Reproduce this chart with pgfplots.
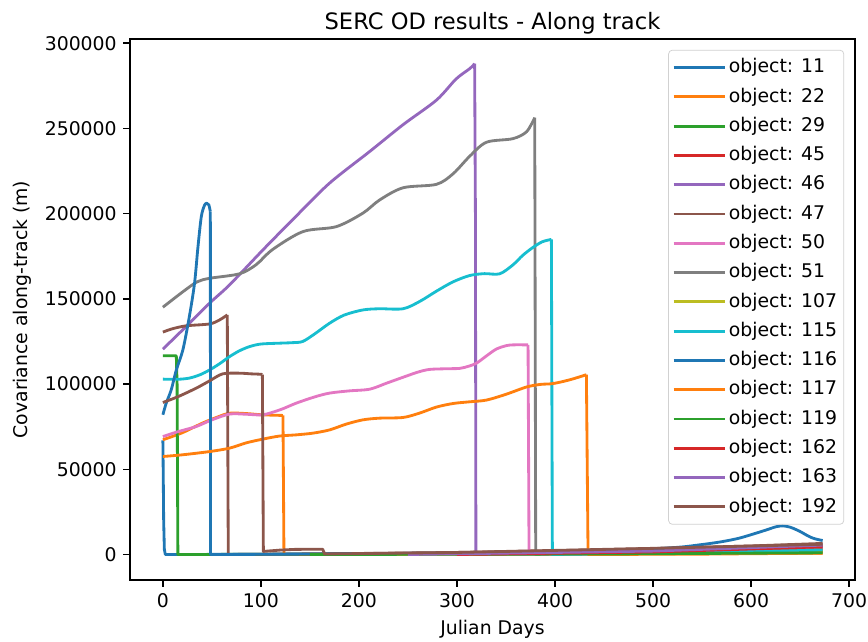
\documentclass[border=0pt]{standalone}
\usepackage{fontspec}
\setmainfont{DejaVu Sans}
\usepackage{pgfplots}
\pgfplotsset{compat=1.18}
\definecolor{C0}{HTML}{1F77B4}
\definecolor{C1}{HTML}{FF7F0E}
\definecolor{C2}{HTML}{2CA02C}
\definecolor{C3}{HTML}{D62728}
\definecolor{C4}{HTML}{9467BD}
\definecolor{C5}{HTML}{8C564B}
\definecolor{C6}{HTML}{E377C2}
\definecolor{C7}{HTML}{7F7F7F}
\definecolor{C8}{HTML}{BCBD22}
\definecolor{C9}{HTML}{17BECF}
\begin{document}
\begin{tikzpicture}
\path[use as bounding box] (-69pt,-32.4pt) rectangle (391.9pt,308pt);
\begin{axis}[
  at={(0,0)}, anchor=south west,
  scale only axis, width=385pt, height=287.3pt,
  xmin=-33.6, xmax=706, ymin=-15000, ymax=302500,
  xtick={0,100,...,700}, ytick={0,50000,...,300000},
  scaled y ticks=false,
  /pgf/number format/fixed, /pgf/number format/1000 sep={},
  /pgf/number format/assume math mode=true,
  tick label style={font=\fontsize{10}{12}\selectfont},
  xtick pos=left, ytick pos=left, tick align=outside,
  major tick length=3.5pt,
  tick style={black, line width=0.8pt},
  axis line style={line width=0.8pt},
  title={SERC OD results - Along track},
  title style={font=\fontsize{12}{14}\selectfont, yshift=-7pt},
  xlabel={Julian Days}, ylabel={Covariance along-track (m)},
  label style={font=\fontsize{10}{12}\selectfont},
  every axis plot/.append style={line width=1.5pt, line join=round},
  legend cell align=left,
  legend style={at={(0.985,0.98)}, anchor=north east,
    font=\fontsize{10}{12}\selectfont, draw=black!18, rounded corners=2pt,
    fill=white, fill opacity=0.8, text opacity=1,
    nodes={inner sep=1.5pt, text height=7.5pt, text depth=2pt},
    row sep=3.05pt, inner xsep=2pt, inner ysep=3pt},
  legend image code/.code={\draw[#1] (0pt,0pt) -- (22pt,0pt); \path (0pt,0pt) -- (27pt,0pt);},
]
% object 11
\addplot[C0] coordinates {(0,67000)(0.4,45000)(0.8,20000)(1.5,3000)(2.5,0)(50,50)};
\addplot[C0, smooth, tension=0.5, forget plot] coordinates {(50,50)(150,300)(300,900)(450,2200)(520,4000)(548,5700)(570,7500)(588,9600)(605,12500)(616,14500)(625,16200)(632,16800)(640,16000)(650,13500)(657,11200)(663,9600)(668,8800)(673,8200)};
% object 22
\addplot[C1, smooth, tension=0.5] coordinates {(0,67300)(20,71500)(40,77000)(55,80500)(68,82900)(85,82700)(100,82000)(115,81700)(122.5,81600)};
\addplot[C1, forget plot] coordinates {(122.5,81600)(123.5,0)(200,50)(400,300)(673,800)};
% object 29
\addplot[C2] coordinates {(0,116600)(13.7,116600)(14.5,100000)(15.3,0)(163,150)(300,500)(673,1800)};
% object 45
\addplot[C3] coordinates {(160,0)(400,800)(673,3000)};
% object 46
\addplot[C4, smooth, tension=0.5] coordinates {(0,120500)(20,131700)(47.7,147500)(68,158200)(102,178700)(135,198000)(170,217900)(211,236500)(245,252200)(279,266600)(299,279000)(313,285100)(318,288000)};
\addplot[C4, forget plot] coordinates {(318,288000)(318.8,200000)(319.3,0)(400,300)(673,4500)};
% object 47
\addplot[C5, smooth, tension=0.5] coordinates {(0,130500)(10,132500)(24,134200)(47.7,135300)(58,137700)(65.7,140600)};
\addplot[C5, forget plot] coordinates {(65.7,140600)(66.7,0)(200,600)(300,1200)(400,2200)(500,3500)(600,5000)(673,6500)};
% object 50
\addplot[C6, smooth, tension=0.5] coordinates {(0,69200)(15,72000)(34,75100)(50,79000)(68,82400)(85,82300)(102,82000)(120,85000)(136,88800)(155,92500)(170,94700)(190,96000)(211,97000)(228,100500)(245,104000)(260,107000)(272,108600)(290,109000)(302.8,109200)(312,110500)(320,112300)(330,116500)(340,120500)(350,122500)(357,123000)(372.5,123000)};
\addplot[C6, forget plot] coordinates {(372.5,123000)(373.5,0)(450,500)(673,3800)};
% object 51
\addplot[C7, smooth, tension=0.5] coordinates {(0,145100)(20,154000)(35,160000)(48,162100)(78,164700)(95,170000)(112,179000)(143,189500)(177,192400)(204,200300)(221,208000)(245,215200)(279,217200)(296,223400)(313,233700)(330,241900)(357,244000)(371,248100)(379.3,256300)};
\addplot[C7, forget plot] coordinates {(379.3,256300)(380.3,0)(500,800)(673,3000)};
% object 107
\addplot[C8] coordinates {(200,0)(450,600)(673,2000)};
% object 115
\addplot[C9, smooth, tension=0.5] coordinates {(0,102900)(15,102800)(27,103500)(38,105500)(47.7,108300)(58,112000)(68,116100)(78,119500)(88.5,122000)(100,123500)(119,124000)(132,124300)(142.6,125000)(155,129500)(170,135700)(185,140500)(204,143500)(221,144200)(245,144200)(262,148500)(279,154500)(296,160000)(313,163700)(328,164800)(343.5,164700)(357,169900)(367,175500)(377.5,180200)(387,183500)(396.3,184900)};
\addplot[C9, forget plot] coordinates {(396.3,184900)(397.3,0)(500,800)(673,2500)};
% object 116
\addplot[C0, smooth, tension=0.5] coordinates {(0,82000)(3.4,88800)(8.5,96600)(13.7,108300)(20.4,120100)(27,139600)(32.3,159200)(35.7,180000)(39.2,198300)(42.6,205100)(44.9,206100)(46.9,205100)(48.4,201200)};
\addplot[C0, forget plot] coordinates {(48.4,201200)(48.6,0)(100,100)(300,800)(500,2500)(673,5000)};
% object 117
\addplot[C1, smooth, tension=0.5] coordinates {(0,57500)(20,58500)(47.7,60400)(68,62400)(85,65500)(102,67700)(119,69500)(136,70200)(153,71200)(170,73100)(187,76500)(204,79000)(221,80000)(245,80400)(262,83000)(279,86500)(296,88600)(313,89600)(330,90600)(350,94000)(371,98300)(385,99800)(398,100300)(415,102500)(432,105500)};
\addplot[C1, forget plot] coordinates {(432,105500)(433.7,0)(550,200)(673,800)};
% object 119
\addplot[C2] coordinates {(150,0)(450,300)(673,1000)};
% object 162
\addplot[C3] coordinates {(300,0)(500,1500)(673,4500)};
% object 163
\addplot[C4] coordinates {(250,0)(500,2000)(673,5500)};
% object 192
\addplot[C5, smooth, tension=0.5] coordinates {(0,89200)(15,92500)(34,97600)(48,102000)(61,106000)(78,106400)(90,106000)(98.6,105800)(101.5,105600)};
\addplot[C5, forget plot] coordinates {(101.5,105600)(102.5,1800)(120,2600)(135,3000)(163,3100)(165,300)(300,1200)(500,3600)(673,6000)};
\legend{object: 11,object: 22,object: 29,object: 45,object: 46,object: 47,object: 50,object: 51,object: 107,object: 115,object: 116,object: 117,object: 119,object: 162,object: 163,object: 192}
\end{axis}
\end{tikzpicture}
\end{document}
